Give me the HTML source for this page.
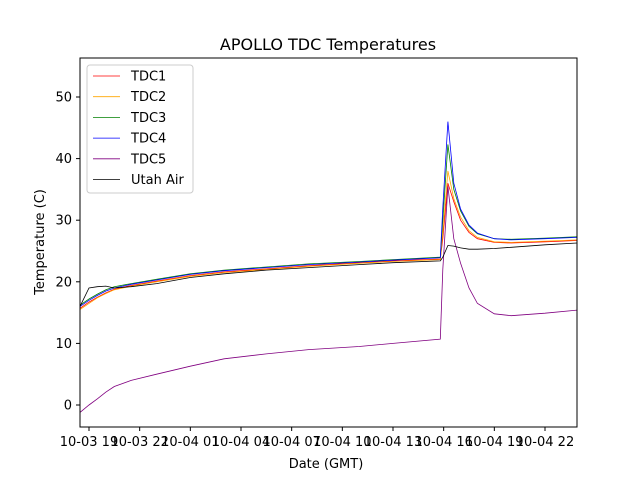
<!DOCTYPE html>
<html><head><meta charset="utf-8"><style>
body{margin:0;background:#fff;font-family:"Liberation Sans","DejaVu Sans",sans-serif}
text{font-family:"DejaVu Sans","Liberation Sans",sans-serif}
</style></head><body>
<svg id="chart" width="640" height="480" viewBox="0 0 640 480" xmlns="http://www.w3.org/2000/svg">
<rect width="640" height="480" fill="#fff"/>
<text x="328" y="50" font-size="16" text-anchor="middle">APOLLO TDC Temperatures</text>
<text x="326" y="468" font-size="13" text-anchor="middle">Date (GMT)</text>
<text x="44" y="242" font-size="13" text-anchor="middle" transform="rotate(-90 44 242)">Temperature (C)</text>
<g id="series"></g>
<g id="axes"></g>
<rect x="80" y="58" width="497" height="369" fill="none" stroke="#000" stroke-width="1"/>
<g>
<rect x="87" y="65" width="106" height="128" rx="3" fill="#fff" fill-opacity="0.8" stroke="#ccc"/>
<g id="legend-items"></g>
</g>
</svg>
<script>
const times=[-0.53,0,0.5,1,1.5,2.5,4,6,8,10.5,13,16,18,20.8,20.95,21.25,21.6,22,22.5,23,24,25,27,28.9];
const tdc1=[15.7,16.7,17.5,18.2,18.8,19.4,20.1,21.0,21.6,22.1,22.6,23.1,23.4,23.7,27,36,33,30,28,27,26.4,26.3,26.5,26.7];
const tdc2=[15.5,16.5,17.4,18.1,18.7,19.3,20.0,20.9,21.5,22.0,22.5,23.0,23.3,23.6,28,38,33.5,30.5,28.3,27.2,26.5,26.4,26.6,26.8];
const tdc3=[16.2,17.2,18.0,18.7,19.2,19.7,20.4,21.3,21.9,22.4,22.9,23.3,23.6,24.0,30,42.3,35,31.5,29,27.8,27.0,26.9,27.1,27.3];
const tdc4=[16.0,17.0,17.8,18.5,19.0,19.6,20.3,21.2,21.8,22.3,22.8,23.2,23.5,23.9,32,46,36,31.8,29.2,27.9,27.0,26.8,27.0,27.2];
const tdc5=[-1.2,0,1.0,2.1,3.0,4.0,5.0,6.3,7.5,8.3,9.0,9.5,10.0,10.7,22,35.5,27,23,19,16.5,14.8,14.5,14.9,15.4];
const utahAir=[16.0,19.0,19.2,19.3,19.0,19.2,19.7,20.7,21.3,21.9,22.3,22.8,23.1,23.4,24.0,25.9,25.8,25.5,25.3,25.3,25.4,25.6,26.0,26.3];
const seriesNames=["TDC1","TDC2","TDC3","TDC4","TDC5","Utah Air"];
const xTickLabels=["10-03 19","10-03 22","10-04 01","10-04 04","10-04 07","10-04 10","10-04 13","10-04 16","10-04 19","10-04 22"];
const xTickHours=[0,3,6,9,12,15,18,21,24,27];
const yTicks=[0,10,20,30,40,50];

const NS="http://www.w3.org/2000/svg";
function xs(t){return 89+t*(456/27);}
function ys(v){return 405-v*6.16;}
const colors=["#ff0000","#ffa500","#008000","#0000ff","#800080","#000000"];
const data=[tdc1,tdc2,tdc3,tdc4,tdc5,utahAir];
const sg=document.getElementById('series');
data.forEach((arr,i)=>{
  const p=document.createElementNS(NS,'polyline');
  p.setAttribute('points',arr.map((v,j)=>xs(times[j]).toFixed(1)+','+ys(v).toFixed(1)).join(' '));
  p.setAttribute('fill','none');p.setAttribute('stroke',colors[i]);p.setAttribute('stroke-width','0.8');
  
  
  sg.appendChild(p);
});
const ax=document.getElementById('axes');
xTickHours.forEach((h,i)=>{
  const x=xs(h);
  const l=document.createElementNS(NS,'line');
  l.setAttribute('x1',x);l.setAttribute('x2',x);l.setAttribute('y1',427);l.setAttribute('y2',431);l.setAttribute('stroke','#000');
  
  
  ax.appendChild(l);
  const t=document.createElementNS(NS,'text');
  t.setAttribute('x',x);t.setAttribute('y',446);t.setAttribute('font-size','13');t.setAttribute('text-anchor','middle');
  t.textContent=xTickLabels[i];
  
  
  ax.appendChild(t);
});
yTicks.forEach(v=>{
  const y=ys(v);
  const l=document.createElementNS(NS,'line');
  l.setAttribute('x1',76);l.setAttribute('x2',80);l.setAttribute('y1',y);l.setAttribute('y2',y);l.setAttribute('stroke','#000');
  
  
  ax.appendChild(l);
  const t=document.createElementNS(NS,'text');
  t.setAttribute('x',72);t.setAttribute('y',y+4.5);t.setAttribute('font-size','13');t.setAttribute('text-anchor','end');
  t.textContent=v;
  
  
  ax.appendChild(t);
});
const lg=document.getElementById('legend-items');
seriesNames.forEach((n,i)=>{
  const y=76+i*20.7;
  const l=document.createElementNS(NS,'line');
  l.setAttribute('x1',93);l.setAttribute('x2',120);l.setAttribute('y1',y);l.setAttribute('y2',y);l.setAttribute('stroke',colors[i]);l.setAttribute('stroke-width','0.8');
  
  
  lg.appendChild(l);
  const t=document.createElementNS(NS,'text');
  t.setAttribute('x',131);t.setAttribute('y',y+4.5);t.setAttribute('font-size','13');
  t.textContent=n;
  
  
  lg.appendChild(t);
});
</script>
</body></html>
